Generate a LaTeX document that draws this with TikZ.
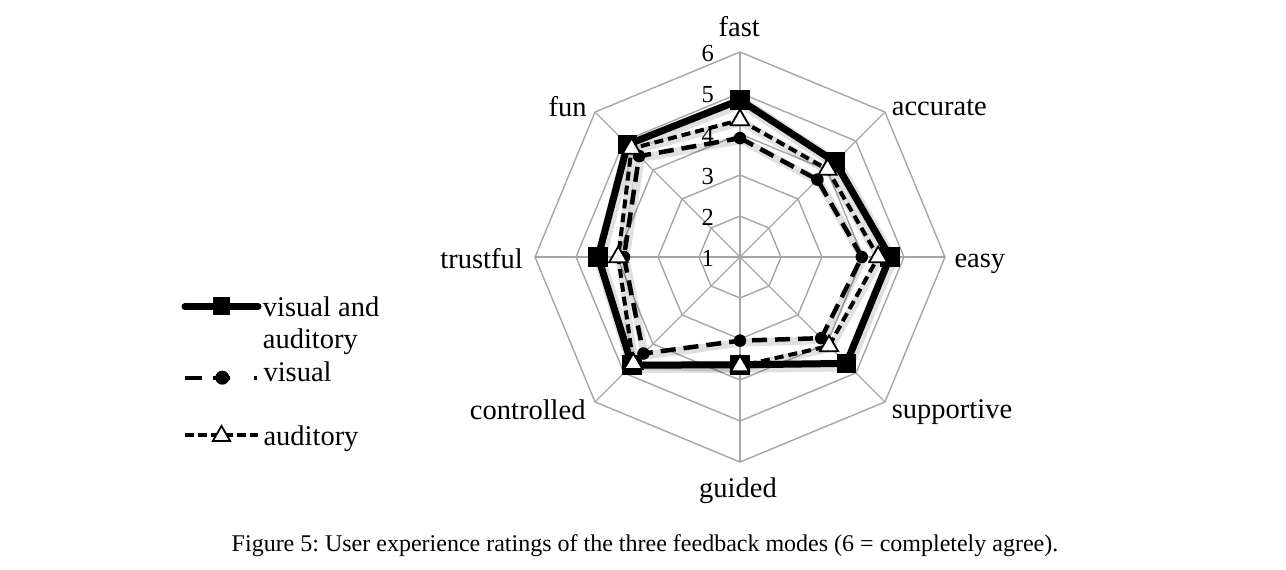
\documentclass[tikz,border=0pt]{standalone}
\usepackage{fontspec}
\setmainfont{Liberation Serif}
\usetikzlibrary{calc,shapes.geometric}
\begin{document}
\frenchspacing
\begin{tikzpicture}[x=1pt,y=-1pt,
  grid/.style={draw=black!35, line width=1.4pt},
  catlab/.style={font=\fontsize{28.5}{30}\selectfont, inner sep=0pt},
  ticklab/.style={font=\fontsize{24.5}{26}\selectfont, inner sep=0pt, anchor=east},
  valine/.style={line width=7pt, line join=miter, draw=black},
  vline/.style={line width=4.5pt, dash pattern=on 15pt off 8pt, draw=black},
  aline/.style={line width=4pt, dash pattern=on 9pt off 5pt, draw=black},
  shadow/.style={draw=black, opacity=0.12, line width=#1, line join=round},
  sqmark/.style={rectangle, fill=black, minimum size=19.5pt, inner sep=0pt},
  cimark/.style={circle, fill=black, minimum size=12.5pt, inner sep=0pt},
  trmark/.style={regular polygon, regular polygon sides=3, draw=black, fill=white,
     line width=1.8pt, minimum size=21pt, inner sep=0pt}
]
\fill[white] (0,0) rectangle (1286,570);
\useasboundingbox (0,0) rectangle (1286,570);
\coordinate (O) at (740,257);
% grid
\foreach \r in {41,82,123,164,205} {
  \draw[grid] ($(O)+(-90:\r)$) \foreach \a in {-45,0,45,90,135,180,225} { -- ($(O)+(\a:\r)$) } -- cycle;
}
\foreach \a [count=\k] in {-90,-45,0,45,90,135,180,225} {
  \coordinate (ax\k) at ($(O)+(\a:205)$);
  \draw[grid] (O) -- (ax\k);
}
% tick labels
\foreach \t in {1,...,6} {
  \pgfmathsetmacro{\ty}{258.5-41*(\t-1)}
  \node[ticklab] (tick\t) at (714,\ty) {\t};
}
% series coordinates
\foreach \v [count=\i from 0, evaluate=\i as \ang using -90+45*\i] in {4.83,4.28,4.66,4.67,3.63,4.73,4.46,4.88}
  \coordinate (va\i) at ($(O)+(\ang:{41*(\v-1)})$);
\foreach \v [count=\i from 0, evaluate=\i as \ang using -90+45*\i] in {3.9,3.67,3.97,3.8,3.04,4.33,3.83,4.48}
  \coordinate (vi\i) at ($(O)+(\ang:{41*(\v-1)})$);
\foreach \v [count=\i from 0, evaluate=\i as \ang using -90+45*\i] in {4.34,4.02,4.37,4.07,3.66,4.68,3.97,4.74}
  \coordinate (au\i) at ($(O)+(\ang:{41*(\v-1)})$);
% visual and auditory
\draw[shadow=12pt, transform canvas={shift={(1.5pt,-2pt)}}] (va0) -- (va1) -- (va2) -- (va3) -- (va4) -- (va5) -- (va6) -- (va7) -- cycle;
\draw[valine] (va0) -- (va1) -- (va2) -- (va3) -- (va4) -- (va5) -- (va6) -- (va7) -- cycle;
\foreach \i in {0,...,7} \node[sqmark] (mva\i) at (va\i) {};
% visual
\draw[shadow=8pt, transform canvas={shift={(1.5pt,-2pt)}}] (vi0) -- (vi1) -- (vi2) -- (vi3) -- (vi4) -- (vi5) -- (vi6) -- (vi7) -- cycle;
\draw[vline] (vi0) -- (vi1) -- (vi2) -- (vi3) -- (vi4) -- (vi5) -- (vi6) -- (vi7) -- cycle;
\foreach \i in {0,...,7} \node[cimark] (mvi\i) at (vi\i) {};
% auditory
\draw[shadow=8pt, transform canvas={shift={(1.5pt,-2pt)}}] (au0) -- (au1) -- (au2) -- (au3) -- (au4) -- (au5) -- (au6) -- (au7) -- cycle;
\draw[aline] (au0) -- (au1) -- (au2) -- (au3) -- (au4) -- (au5) -- (au6) -- (au7) -- cycle;
\foreach \i in {0,...,7} \node[trmark] (mau\i) at (au\i) {};
% category labels
\node[catlab, anchor=base] (lfast) at (739.3,36.7) {fast};
\node[catlab, anchor=base west] (lacc) at (891.7,115) {accurate};
\node[catlab, anchor=base west] (leasy) at (954.3,267) {easy};
\node[catlab, anchor=base west] (lsup) at (891.7,418.3) {supportive};
\node[catlab, anchor=base] (lgui) at (738,497.3) {guided};
\node[catlab, anchor=base east] (lcon) at (585.7,419.3) {controlled};
\node[catlab, anchor=base east] (ltru) at (523,268) {trustful};
\node[catlab, anchor=base east] (lfun) at (586.7,116) {fun};
% legend
\coordinate (l1a) at (185,306.7); \coordinate (l1b) at (258,306.7);
\draw[line width=7pt, line cap=round] (l1a) -- (l1b);
\node[sqmark, minimum size=17.5pt] (lm1) at (221.5,306.2) {};
\node[catlab, anchor=base west] (lt1) at (262.7,316.7) {visual and};
\node[catlab, anchor=base west] (lt1b) at (262.7,348.3) {auditory};
\coordinate (l2a) at (185,377.7); \coordinate (l2b) at (258,377.7);
\draw[line width=4pt, dash pattern=on 16.7pt off 11.3pt on 17pt off 23.5pt on 3.5pt off 100pt] (l2a) -- (l2b);
\node[cimark, minimum size=14pt] (lm2) at (222.3,377.7) {};
\node[catlab, anchor=base west] (lt2) at (263.3,381.7) {visual};
\coordinate (l3a) at (185,435); \coordinate (l3b) at (258,435);
\draw[line width=4pt, dash pattern=on 8.5pt off 4.5pt] (l3a) -- (l3b);
\node[trmark, minimum size=20pt] (lm3) at (221.5,436) {};
\node[catlab, anchor=base west] (lt3) at (263.3,445) {auditory};
% caption
\node[font=\fontsize{24}{26}\selectfont, anchor=base, inner sep=0pt] (cap) at (645,551) {Figure 5: User experience ratings of the three feedback modes (6 = completely agree).};
\end{tikzpicture}
\end{document}
